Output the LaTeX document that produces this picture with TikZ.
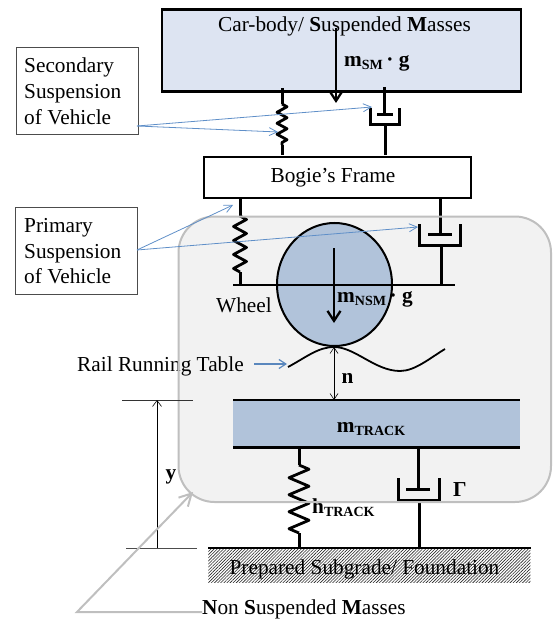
\documentclass[tikz,border=0pt]{standalone}
\usepackage{fontspec}
\setmainfont{Liberation Serif}
\usetikzlibrary{arrows.meta,decorations.pathmorphing,patterns.meta,shapes.geometric}
\definecolor{bodyblue}{HTML}{DDE4F2}
\definecolor{massblue}{HTML}{BBCEE6}
\definecolor{callblue}{HTML}{5F8FC8}
\definecolor{overgrey}{HTML}{BFBFBF}
\newcommand{\txtsize}{\fontsize{21.3}{25.8}\selectfont}
\newcommand{\msub}[2]{\textbf{#1}\raisebox{-3pt}{\fontsize{14}{14}\selectfont\textbf{#2}}}
\tikzset{
 lbl/.style={inner sep=0pt,font=\txtsize},
 thick line/.style={line width=3pt,black},
 edge line/.style={line width=2.4pt,black},
 blockbox/.style={draw=black,line width=2.2pt,inner sep=0pt},
 callbox/.style={draw=black!70,line width=.8pt,fill=white,inner sep=0pt,minimum width=122pt,minimum height=87pt,anchor=north west},
 coil/.style n args={2}{line width=2.8pt,line join=round,decorate,decoration={zigzag,amplitude=#1,segment length=#2}},
 call/.style={callblue,line width=.8pt,-{Straight Barb[length=8pt,width=8pt,line width=.8pt]}},
 thin arrow/.style={black,line width=.6pt},
 force/.style={line width=2.3pt,black,-{Straight Barb[length=10pt,width=13pt,line width=2.3pt]}},
 greyarrow/.style={overgrey,line width=2pt,-{Straight Barb[length=12pt,width=13pt,line width=2pt]}},
}
\begin{document}
\begin{tikzpicture}[x=1pt,y=-1pt]
\useasboundingbox (0,0) rectangle (552,620);
% car body
\node[blockbox,fill=bodyblue,minimum width=359pt,minimum height=82pt,anchor=north west] (body) at (161,8.5) {};
\node[lbl] (bodytxt) at (344.5,26) {Car-body/ \textbf{S}uspended \textbf{M}asses};
\coordinate (gtop) at (336,28);
\coordinate (gtip) at (336,103);
\draw[force] (gtop) -- (gtip);
\node[lbl,anchor=west] (msm) at (344,63) {\msub{m}{SM}\,\textbf{· g}};
% bogie
\node[blockbox,fill=white,minimum width=267pt,minimum height=41pt,anchor=north west] (bogie) at (203,156) {};
\node[lbl] (bogietxt) at (333,178) {Bogie’s Frame};
% secondary spring
\coordinate (ss1) at (282,88);
\coordinate (ss2) at (282,155);
\draw[thick line] (ss1) -- (282,104) (282,145) -- (ss2);
\draw[thick line,coil={5pt}{11pt}] (282,104) -- (282,145);
% secondary damper
\coordinate (sd1) at (384,87);
\coordinate (sd2) at (384,115);
\coordinate (sd3) at (385,125);
\coordinate (sd4) at (385,155);
\draw[thick line] (sd1) -- (sd2);
\draw[thick line] (377,115) -- (393,115);
\draw[thick line] (370.5,108) -- (370.5,125) -- (399,125) -- (399,108);
\draw[thick line] (sd3) -- (sd4);
% primary spring
\coordinate (ps1) at (240,198);
\coordinate (ps2) at (240,285);
\draw[thick line] (ps1) -- (240,216) (240,272) -- (ps2);
\draw[thick line,coil={6.5pt}{14pt}] (240,216) -- (240,272);
% primary damper
\coordinate (pd1) at (440,198);
\coordinate (pd2) at (440,234);
\coordinate (pd3) at (441,245);
\coordinate (pd4) at (441,285);
\draw[thick line] (pd1) -- (pd2);
\draw[thick line] (428,234) -- (452,234);
\draw[thick line] (419.5,224) -- (419.5,245) -- (460.5,245) -- (460.5,224);
\draw[thick line] (pd3) -- (pd4);
% wheel
\node[ellipse,draw=black,line width=2pt,fill=massblue,inner sep=0pt,minimum width=115pt,minimum height=123pt] (wheel) at (334.5,284.5) {};
\coordinate (ax1) at (233,285);
\coordinate (ax2) at (455,285);
\draw[edge line] (ax1) -- (ax2);
\coordinate (wtop) at (334,248);
\coordinate (wtip) at (334,323);
\draw[force] (wtop) -- (wtip);
\node[lbl,anchor=west] (mnsm) at (337,299) {\msub{m}{NSM}\,\textbf{· g}};
\node[lbl] (wheeltxt) at (244,305) {Wheel};
% rail
\node[lbl,anchor=west] (railtxt) at (77,366) {Rail Running Table};
\coordinate (r1) at (288,367);
\coordinate (rpk) at (334,347);
\coordinate (rtr) at (400,371);
\coordinate (r2) at (445,349);
\draw[line width=1.8pt,black] (r1) .. controls (305,358) and (318,347) .. (rpk) .. controls (355,347) and (375,371) .. (rtr) .. controls (415,371) and (430,358) .. (r2);
\coordinate (ra1) at (254,364);
\coordinate (ra2) at (287,364);
\draw[callblue,line width=1.2pt,-{Straight Barb[length=7pt,width=9pt,line width=1.2pt]}] (ra1) -- (ra2);
\coordinate (n1) at (334,400);
\draw[thin arrow,{Straight Barb[length=6pt,width=8pt,line width=.6pt]}-{Straight Barb[length=6pt,width=8pt,line width=.6pt]}] (rpk) -- (n1);
\node[lbl] (ntxt) at (347.5,378) {\textbf{n}};
% track
\node[fill=massblue,inner sep=0pt,minimum width=287pt,minimum height=47pt,anchor=north west] (track) at (233,400) {};
\draw[edge line] (track.north west) -- (track.north east);
\draw[edge line] (track.south west) -- (track.south east);
\node[lbl] (mtr) at (371,429) {\msub{m}{TRACK}};
% ground
\node[pattern={Lines[angle=45,distance=2.2pt,line width=.6pt]},pattern color=black!85,inner sep=0pt,minimum width=322pt,minimum height=34pt,anchor=north west] (ground) at (208,548) {};
\draw[edge line] (ground.north west) -- (ground.north east);
\node[lbl] (gtxt) at (364.5,569) {Prepared Subgrade/ Foundation};
% track spring
\coordinate (ts1) at (299,448);
\coordinate (ts2) at (299,548);
\draw[thick line] (ts1) -- (299,465) (299,533) -- (ts2);
\draw[thick line,coil={10pt}{17pt}] (299,465) -- (299,533);
\node[lbl,anchor=west] (htr) at (312,508) {\msub{h}{TRACK}};
% track damper
\coordinate (td1) at (418,448);
\coordinate (td2) at (418,489);
\coordinate (td3) at (419,503);
\coordinate (td4) at (419,548);
\draw[thick line] (td1) -- (td2);
\draw[thick line] (406,489) -- (430,489);
\draw[thick line] (398.5,478) -- (398.5,500) -- (439,500) -- (439,478);
\draw[thick line] (td3) -- (td4);
\node[lbl] (gam) at (460,490) {\textbf{Γ}};
% non suspended region
\path[fill=black,fill opacity=.05,draw=overgrey,draw opacity=1,line width=2pt,rounded corners=36pt] (178.5,216.5) rectangle (551,502);
% dimension y
\coordinate (d1a) at (122,400);
\coordinate (d1b) at (193,400);
\coordinate (d2a) at (126,548);
\coordinate (d2b) at (197,548);
\coordinate (dtop) at (157,400);
\coordinate (dbot) at (157,548);
\draw[black!80,line width=.7pt] (d1a) -- (d1b);
\draw[black!70,line width=.8pt] (d2a) -- (d2b);
\draw[thin arrow,-{Straight Barb[length=6pt,width=9pt,line width=.6pt]}] (dbot) -- (dtop);
\node[lbl] (ytxt) at (171,477) {\textbf{y}};
% callouts
\node[callbox] (sec) at (16,47) {};
\node[lbl,anchor=north west,align=left] (sectxt) at (24,58) {Secondary\\Suspension\\of Vehicle};
\node[callbox] (pri) at (15,207) {};
\node[lbl,anchor=north west,align=left] (pritxt) at (24,218) {Primary\\Suspension\\of Vehicle};
\coordinate (sec0) at (137,126);
\coordinate (sec1) at (372,107);
\coordinate (sec2) at (278,132);
\draw[call] (sec0) -- (sec1);
\draw[call] (sec0) -- (sec2);
\coordinate (pri0) at (137,250);
\coordinate (pri1) at (233,205);
\coordinate (pri2) at (418,227);
\draw[call] (pri0) -- (pri1);
\draw[call] (pri0) -- (pri2);
% non suspended label
\node[lbl,anchor=west] (nsm) at (202,609.5) {\textbf{N}on \textbf{S}uspended \textbf{M}asses};
\coordinate (nk) at (77,612);
\coordinate (nt) at (193,492);
\draw[greyarrow] (nsm.west |- nk) -- (nk) -- (nt);
\end{tikzpicture}
\end{document}
